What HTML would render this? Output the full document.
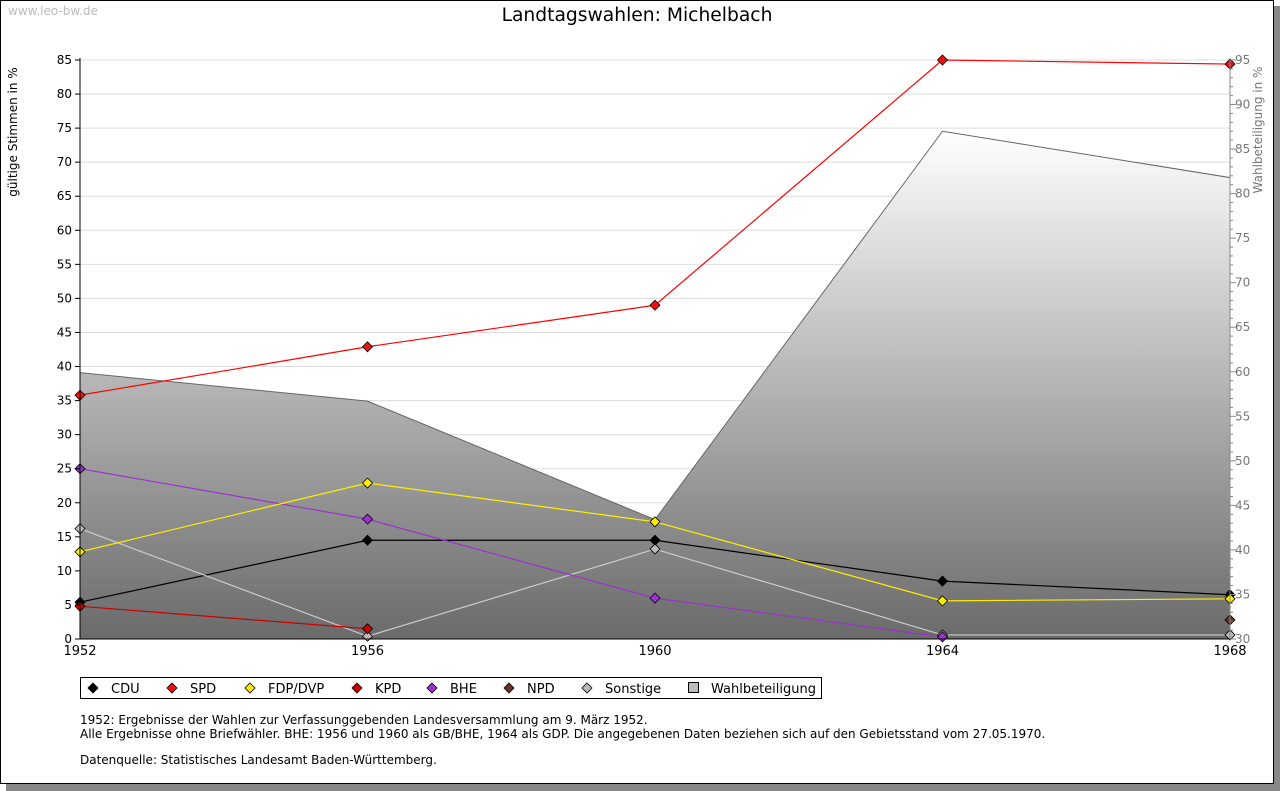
<!DOCTYPE html>
<html><head><meta charset="utf-8"><style>
body{margin:0;background:#fff;}
svg{display:block;font-family:"DejaVu Sans","Liberation Sans",sans-serif;}
</style></head><body>
<svg id="c" width="1280" height="791" xmlns="http://www.w3.org/2000/svg">
<defs>
<linearGradient id="wb" x1="0" y1="131" x2="0" y2="639" gradientUnits="userSpaceOnUse">
<stop offset="0" stop-color="#ffffff"/><stop offset="1" stop-color="#6a6a6a"/>
</linearGradient>
</defs>
<rect x="6" y="6" width="1274" height="785" fill="#888"/>
<rect x="0.5" y="0.5" width="1273" height="783" fill="#fff" stroke="#000"/>
<text x="8" y="15" font-size="12" fill="#bbb">www.leo-bw.de</text>
<text x="637" y="21" font-size="18.7" text-anchor="middle" fill="#000">Landtagswahlen: Michelbach</text>
<text transform="translate(17,132) rotate(-90)" font-size="12" text-anchor="middle">gültige Stimmen in %</text>
<text transform="translate(1262,130) rotate(-90)" font-size="12" text-anchor="middle" fill="#777">Wahlbeteiligung in %</text>
<g id="grid"></g><g id="area"></g><g id="lines"></g><g id="axes"></g>
<g>
<rect x="80.5" y="677.5" width="741" height="21" fill="#fff" stroke="#000"/>
<g id="leg"></g>
</g>
<text font-size="12">
<tspan x="80" y="724">1952: Ergebnisse der Wahlen zur Verfassunggebenden Landesversammlung am 9. März 1952.</tspan>
<tspan x="80" y="738">Alle Ergebnisse ohne Briefwähler. BHE: 1956 und 1960 als GB/BHE, 1964 als GDP. Die angegebenen Daten beziehen sich auf den Gebietsstand vom 27.05.1970.</tspan>
<tspan x="80" y="764">Datenquelle: Statistisches Landesamt Baden-Württemberg.</tspan>
</text>
</svg>
<script>
const years=[1952,1956,1960,1964,1968];
const cdu=[5.4,14.5,14.5,8.5,6.5];
const spd=[35.8,42.9,49.0,85.0,84.4];
const fdp=[12.8,22.9,17.2,5.6,5.9];
const kpd=[4.8,1.5,null,null,null];
const bhe=[25.0,17.6,6.0,0.3,null];
const npd=[null,null,null,null,2.8];
const sonst=[16.2,0.4,13.2,0.6,0.6];
const turnout=[59.9,56.7,43.4,87.0,81.8];
const leftTicks=[0,5,10,15,20,25,30,35,40,45,50,55,60,65,70,75,80,85];
const rightTicks=[30,35,40,45,50,55,60,65,70,75,80,85,90,95];
const NS='http://www.w3.org/2000/svg';
const X0=80,X1=1230,Y0=639,Y1=60;
const x=y=>X0+(y-1952)/(1968-1952)*(X1-X0);
const yl=v=>Y0-v/85*(Y0-Y1);
const yr=v=>Y0-(v-30)/65*(Y0-Y1);
function el(t,a,p){const e=document.createElementNS(NS,t);for(const k in a)e.setAttribute(k,a[k]);document.getElementById(p).appendChild(e);return e;}
leftTicks.forEach(v=>{
 if(v>0){const g=el('line',{x1:X0,x2:X1,y1:yl(v),y2:yl(v),stroke:'#ddd'},'grid');
 
 }
 el('line',{x1:X0-5,x2:X0,y1:yl(v),y2:yl(v),stroke:'#000'},'axes');
 const t=el('text',{x:X0-8,y:yl(v)+4,'font-size':12,'text-anchor':'end'},'axes');t.textContent=v;
 
 
});
rightTicks.forEach(v=>{
 el('line',{x1:X1,x2:X1+6,y1:yr(v),y2:yr(v),stroke:'#888'},'axes');
 for(let m=1;m<5&&v<95;m++)el('line',{x1:X1,x2:X1+3,y1:yr(v+m),y2:yr(v+m),stroke:'#888'},'axes');
 const t=el('text',{x:X1+5,y:yr(v)+4,'font-size':12,fill:'#777'},'axes');t.textContent=v;
 
 
});
let pts=years.map((y,i)=>x(y)+','+yr(turnout[i])).join(' ');
const ar=el('polygon',{points:x(1952)+','+Y0+' '+pts+' '+x(1968)+','+Y0,fill:'url(#wb)',stroke:'#666'},'area');


el('line',{x1:X0,x2:X0,y1:Y1-2,y2:Y0,stroke:'#000'},'axes');
el('line',{x1:X1,x2:X1,y1:Y1,y2:Y0,stroke:'#888'},'axes');
el('line',{x1:X0,x2:X1,y1:Y0,y2:Y0,stroke:'#000'},'axes');
years.forEach(y=>{const t=el('text',{x:x(y),y:Y0+16,'font-size':13,'text-anchor':'middle'},'axes');t.textContent=y;
 
 });
const series=[['cdu',cdu,'#000','#000'],['sonstige',sonst,'#ccc','#bbb'],['bhe',bhe,'#9933cc','#9933cc'],['kpd',kpd,'#cc0000','#cc0000'],['fdp',fdp,'#ffee00','#ffee00'],['spd',spd,'#ff0000','#ee1111'],['npd',npd,'#663322','#663322']];
series.forEach(([n,d,lc,fc])=>{
 let p=[];d.forEach((v,i)=>{if(v!=null)p.push(x(years[i])+','+yl(v));});
 if(p.length>1){const l=el('polyline',{points:p.join(' '),fill:'none',stroke:lc,'stroke-width':1.2},'lines');
 
 }
 d.forEach((v,i)=>{if(v==null)return;const cx=x(years[i]),cy=yl(v);
  const m=el('polygon',{points:`${cx},${cy-5} ${cx+5},${cy} ${cx},${cy+5} ${cx-5},${cy}`,fill:fc,stroke:'#000','stroke-width':0.8},'lines');
  
  });
});
const leg=[['CDU','#000',93],['SPD','#ee1111',172],['FDP/DVP','#ffee00',250],['KPD','#cc0000',357],['BHE','#9933cc',432],['NPD','#663322',509],['Sonstige','#bbb',587]];
leg.forEach(([t,c,lx])=>{
 const m=el('polygon',{points:`${lx},${683} ${lx+5},${688} ${lx},${693} ${lx-5},${688}`,fill:c,stroke:'#000','stroke-width':0.8},'leg');
 
 
 const tx=el('text',{x:lx+18,y:693,'font-size':13},'leg');tx.textContent=t;
 
 
});
const r=el('rect',{x:688.5,y:682.5,width:10,height:10,fill:'#bbb',stroke:'#000'},'leg');


const tw=el('text',{x:711,y:693,'font-size':13},'leg');tw.textContent='Wahlbeteiligung';


</script>
</body></html>
